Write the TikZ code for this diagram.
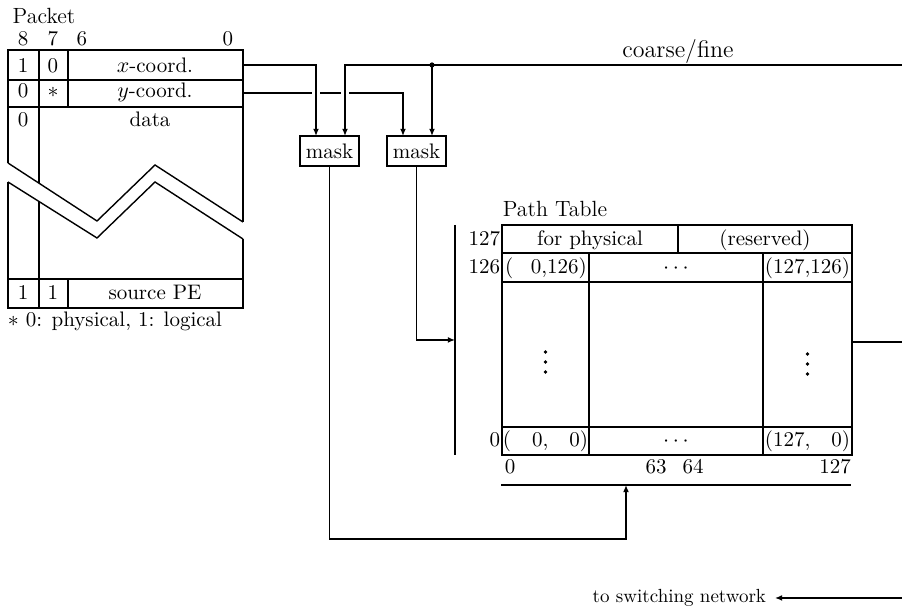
\documentclass[tikz,border=0pt]{standalone}
\usetikzlibrary{arrows.meta}
\pgfdeclarelayer{bg}
\pgfsetlayers{bg,main}
\begin{document}
\begin{tikzpicture}[x=0.5pt,y=-0.5pt,line width=0.7pt,
  every node/.style={inner sep=0pt,outer sep=0pt,font=\fontsize{10.5}{12}\selectfont},
  maskbox/.style={draw,fill=white,minimum width=29.5pt,minimum height=15pt},
  arr/.style={line width=0.7pt,-{Latex[length=3.6pt,width=3pt]}},
  gap/.style={preaction={draw=white,line width=4pt,-}},
  lbl/.style={anchor=base},
  dotmark/.style={fill,radius=0.9pt},
  ]
\useasboundingbox (0,0) rectangle (902,613);

% ---------- Packet ----------
\node[lbl,font=\fontsize{11}{13}\selectfont] (pk) at (44,24) {Packet};
\node[lbl] (b8) at (23,46) {8};
\node[lbl] (b7) at (53,46) {7};
\node[lbl] (b6) at (82,46) {6};
\node[lbl] (b0) at (228,46) {0};

\draw (8,163) -- (8,50) -- (243,50) -- (243,222);
\draw (8,182) -- (8,308) -- (243,308) -- (243,239);
\draw (8,80) -- (243,80);
\draw (8,107) -- (243,107);
\draw (8,279) -- (243,279);
\draw (39,50) -- (39,183.2);
\draw (39,201.5) -- (39,308);
\draw (68,50) -- (68,107);
\draw (68,279) -- (68,308);
\draw (8,163) -- (97,221) -- (155,165) -- (243,222);
\draw (8,182) -- (97,238) -- (155,182) -- (243,239);

\node[lbl] (r1a) at (23,73) {1};
\node[lbl] (r1b) at (53,73) {0};
\node[lbl] (r1c) at (155,73) {$x$-coord.};
\node[lbl] (r2a) at (23,98) {0};
\node[lbl] (r2b) at (53,98) {$*$};
\node[lbl] (r2c) at (155,98) {$y$-coord.};
\node[lbl] (r3a) at (23,127) {0};
\node[lbl] (r3c) at (150,127) {data};
\node[lbl] (r4a) at (23,300) {1};
\node[lbl] (r4b) at (53,300) {1};
\node[lbl] (r4c) at (155,300) {source PE};
\node[anchor=base west] (fn) at (8,327) {$*$ 0: physical, 1: logical};

\coordinate (xc) at (243,65);
\coordinate (yc) at (243,93);

% ---------- masks ----------
\node[maskbox] (m1) at (329.5,151) {mask};
\node[maskbox] (m2) at (416.5,151) {mask};
\coordinate (m1a) at ([xshift=-6.75pt]m1.north);
\coordinate (m1b) at ([xshift=7.75pt]m1.north);
\coordinate (m2a) at ([xshift=-6.75pt]m2.north);
\coordinate (m2b) at ([xshift=7.75pt]m2.north);

\node[lbl,font=\fontsize{12}{14}\selectfont] (cf) at (678,58) {coarse/fine};
\coordinate (cfr) at (902,65);
\coordinate (jn) at (m2b |- cfr);

% ---------- Path table ----------
\node[lbl,font=\fontsize{11}{13}\selectfont] (pt) at (555,217) {Path Table};
\draw (502,225) rectangle (852,455);
\draw (502,253) -- (852,253);
\draw (502,282) -- (852,282);
\draw (502,427) -- (852,427);
\draw (678,225) -- (678,253);
\draw (589,253) -- (589,455);
\draw (763,253) -- (763,455);

\node[anchor=base east] (l127) at (500,246) {127};
\node[anchor=base east] (l126) at (500,274) {126};
\node[anchor=base east] (l0) at (500,447) {0};
\node[lbl] (c127a) at (590,246) {for physical};
\node[lbl] (c127b) at (765,246) {(reserved)};
\node[lbl] (c126a) at (546,274) {(\hphantom{1}\,\,0,126)};
\node[lbl] (c126b) at (676,274) {$\cdots$};
\node[lbl] (c126c) at (807.5,274) {(127,126)};
\fill (545.5,352) circle [dotmark];
\fill (545.5,362) circle [dotmark];
\fill (545.5,372) circle [dotmark];
\fill (807.5,354) circle [dotmark];
\fill (807.5,364) circle [dotmark];
\fill (807.5,374) circle [dotmark];
\node[lbl] (c0a) at (545.5,447) {(\hphantom{12}0,\hphantom{12}0)};
\node[lbl] (c0b) at (676,447) {$\cdots$};
\node[lbl] (c0c) at (807.5,447) {(127,\hphantom{12}0)};

\node[lbl] (x0) at (510,474) {0};
\node[lbl] (x63) at (656,474) {63};
\node[lbl] (x64) at (693,474) {64};
\node[lbl] (x127) at (835,474) {127};

\draw (455,225) -- (455,455);
\coordinate (tin) at (455,340);
\draw (501,485) -- (851,485);
\coordinate (bin) at (626,485);
\coordinate (tout) at (852,342);
\coordinate (rr) at (902,342);
\draw (tout) -- (rr);

\coordinate (lo) at (329.5,539);

\node[anchor=base east,font=\fontsize{9.5}{11}\selectfont] (swl) at (766,603) {to switching network};
\coordinate (sw) at (902,598);
\coordinate (swend) at (775,598);
\draw[arr] (sw) -- (swend);

% ---------- connectors (background layer) ----------
\begin{pgfonlayer}{bg}
\draw[arr] (yc) -| (m2a);
\draw[arr,gap] (xc) -| (m1a);
\draw[arr,gap] (cfr) -| (m1b);
\fill (jn) circle (1.3pt);
\draw[arr] (jn) -- (m2b);
\draw[arr] (m1.south) -- (lo) -| (bin);
\draw[arr] (m2.south) |- (tin);
\end{pgfonlayer}
\end{tikzpicture}
\end{document}
